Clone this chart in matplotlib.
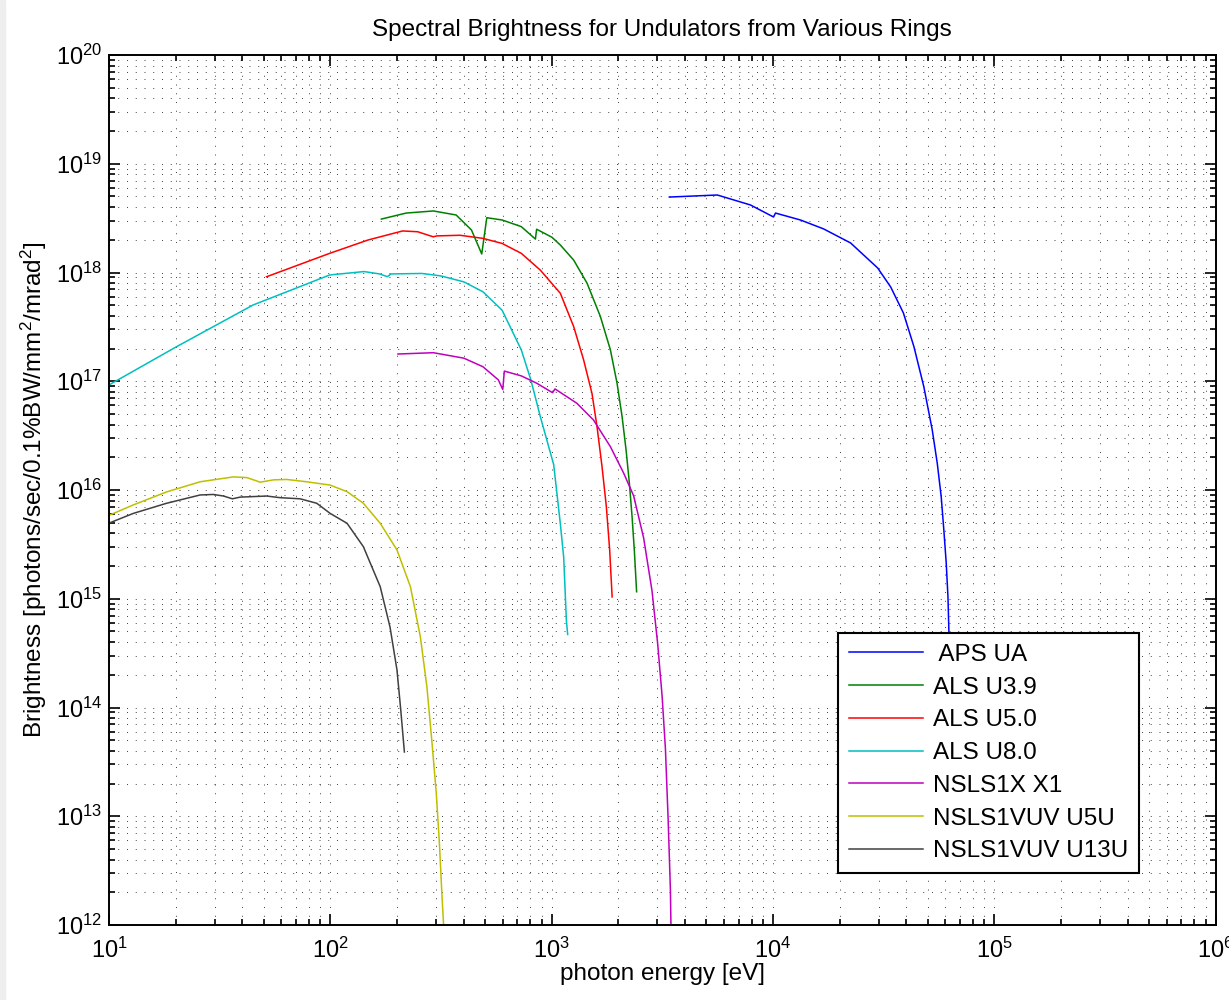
import matplotlib
matplotlib.use("Agg")
import matplotlib.pyplot as plt
import numpy as np
from matplotlib.ticker import LogLocator, NullFormatter

plt.rcParams['font.family'] = ['Liberation Sans', 'DejaVu Sans']
plt.rcParams['mathtext.fontset'] = 'custom'
plt.rcParams['mathtext.rm'] = 'Liberation Sans'
plt.rcParams['mathtext.it'] = 'Liberation Sans:italic'

# values (energy in eV, brightness)
aps_e = [3400, 5600, 7900, 10050, 10260, 13300, 16900, 22400, 29700, 34000,
         38800, 43300, 48000, 52400, 55200, 57500, 59100, 60600, 61700, 62600,
         64700]
aps_b = [4.94e18, 5.16e18, 4.18e18, 3.24e18, 3.52e18, 3.04e18, 2.52e18, 1.87e18,
         1.10e18, 7.36e17, 4.25e17, 2.08e17, 8.9e16, 3.56e16, 1.76e16, 8.7e15,
         4.3e15, 2.12e15, 1.04e15, 3.5e14, 1.0e14]

u39_e = [170, 220, 292, 370, 434, 483, 509, 597, 729, 844, 855, 1002, 1094, 1257,
         1445, 1660, 1842, 1974, 2080, 2168, 2244, 2307, 2362, 2419]
u39_b = [3.1e18, 3.52e18, 3.68e18, 3.38e18, 2.46e18, 1.48e18, 3.19e18, 3.04e18,
         2.64e18, 2.03e18, 2.50e18, 2.11e18, 1.79e18, 1.30e18, 7.96e17, 3.93e17,
         1.94e17, 9.57e16, 4.72e16, 2.33e16, 1.15e16, 5.7e15, 2.8e15, 1.16e15]

u50_e = [51.5, 99.3, 148, 212, 248, 291.5, 303, 385, 489, 597, 729, 889, 1094,
         1257, 1394, 1521, 1603, 1688, 1766, 1828, 1875]
u50_b = [9.14e17, 1.50e18, 1.99e18, 2.41e18, 2.37e18, 2.13e18, 2.17e18, 2.20e18,
         2.06e18, 1.85e18, 1.50e18, 1.05e18, 6.44e17, 3.18e17, 1.57e17, 7.7e16,
         3.8e16, 1.64e16, 7.0e15, 2.8e15, 1.04e15]

u80_e = [10, 20.2, 44.8, 99.3, 142, 167, 181, 188, 259, 316, 401, 489, 597,
         729, 805, 889, 1021, 1094, 1133, 1165, 1181]
u80_b = [9.25e16, 2.08e17, 5.03e17, 9.49e17, 1.02e18, 9.7e17, 9.15e17, 9.7e17,
         9.8e17, 9.3e17, 8.2e17, 6.65e17, 4.5e17, 1.94e17, 1.03e17, 4.7e16,
         1.71e16, 4.9e15, 2.4e15, 6.3e14, 4.7e14]

x1_e = [202, 292, 401, 489, 574, 601, 611, 729, 855, 1009, 1035, 1300, 1545,
        1842, 2114, 2345, 2602, 2838, 3010, 3153, 3264, 3357, 3437, 3490]
x1_b = [1.78e17, 1.83e17, 1.63e17, 1.36e17, 1.03e17, 8.4e16, 1.24e17, 1.12e17,
        9.6e16, 7.85e16, 8.5e16, 6.27e16, 4.4e16, 2.5e16, 1.43e16, 8.85e15,
        3.63e15, 1.19e15, 3.9e14, 1.28e14, 4.2e13, 9.5e12, 2.15e12, 3e11]

u5u_e = [10.1, 12.9, 18.2, 25.8, 36.5, 42, 48.2, 55.4, 63.6, 78.3, 99.7, 119,
         141, 168, 200, 230, 255, 273, 288, 301, 311, 319, 325, 328]
u5u_b = [5.9e15, 7.3e15, 9.6e15, 1.19e16, 1.32e16, 1.30e16, 1.18e16, 1.24e16,
         1.25e16, 1.19e16, 1.11e16, 9.65e15, 7.55e15, 4.94e15, 2.81e15, 1.29e15,
         4.48e14, 1.55e14, 4.7e13, 1.63e13, 5.6e12, 1.95e12, 9.8e11, 4e11]

u13u_e = [10.1, 12.9, 18.2, 25.8, 29.6, 32.9, 36.1, 39.1, 51.6, 59.3, 73, 86.8,
          99.7, 119, 141, 168, 186, 200, 208, 216]
u13u_b = [5.0e15, 6.1e15, 7.55e15, 9.0e15, 9.1e15, 8.8e15, 8.3e15, 8.6e15,
          8.8e15, 8.5e15, 8.3e15, 7.55e15, 6.1e15, 4.94e15, 3.01e15, 1.29e15,
          5.5e14, 2.21e14, 9.5e13, 3.9e13]

series = [
    (aps_e, aps_b, ' APS UA', (0, 0, 1)),
    (u39_e, u39_b, 'ALS U3.9', (0, 0.5, 0)),
    (u50_e, u50_b, 'ALS U5.0', (1, 0, 0)),
    (u80_e, u80_b, 'ALS U8.0', (0, 0.75, 0.75)),
    (x1_e, x1_b, 'NSLS1X X1', (0.75, 0, 0.75)),
    (u5u_e, u5u_b, 'NSLS1VUV U5U', (0.75, 0.75, 0)),
    (u13u_e, u13u_b, 'NSLS1VUV U13U', (0.25, 0.25, 0.25)),
]

fig = plt.figure(figsize=(12.29, 10), dpi=100)
ax = fig.add_axes([0.0887, 0.075, 0.9005, 0.87])

for e, b, lab, col in series:
    ax.plot(e, b, color=col, lw=1.1, label=lab)

ax.set_xscale('log')
ax.set_yscale('log')
ax.set_xlim(10, 1e6)
ax.set_ylim(1e12, 1e20)

ax.xaxis.set_major_locator(LogLocator(base=10, numticks=20))
ax.yaxis.set_major_locator(LogLocator(base=10, numticks=20))
ax.xaxis.set_minor_locator(LogLocator(base=10, subs=np.arange(2, 10), numticks=20))
ax.yaxis.set_minor_locator(LogLocator(base=10, subs=np.arange(2, 10), numticks=20))
ax.xaxis.set_minor_formatter(NullFormatter())
ax.yaxis.set_minor_formatter(NullFormatter())

ax.grid(True, which='both', color='black', linestyle=(0, (1, 8)), linewidth=0.7, alpha=0.75)
ax.tick_params(which='both', direction='in', top=True, right=True, labelsize=17, width=1.2)
ax.tick_params(axis='x', which='major', pad=9)
ax.tick_params(axis='y', which='major', pad=5)
ax.tick_params(which='major', length=8)
ax.tick_params(which='minor', length=4)
for s in ax.spines.values():
    s.set_linewidth(1.4)

ax.set_title('Spectral Brightness for Undulators from Various Rings', fontsize=17.5, pad=14)
ax.set_xlabel('photon energy [eV]', fontsize=17.5, labelpad=0)
ax.set_ylabel(r'Brightness [photons/sec/0.1%BW/mm$^2$/mrad$^2$]', fontsize=17.5, labelpad=5)

leg = ax.legend(loc='upper left', bbox_to_anchor=(0.6586, 0.3356), fontsize=17.5,
                fancybox=False, edgecolor='black', framealpha=1, borderaxespad=0,
                handlelength=3.05, handletextpad=0.4, labelspacing=0.44, borderpad=0.45)
leg.get_frame().set_linewidth(1.5)

fig.patches.append(plt.Rectangle((0, 0), 0.004, 1, transform=fig.transFigure,
                                 color='#eeeeee', zorder=-1))

fig.savefig('out.png', dpi=100)
